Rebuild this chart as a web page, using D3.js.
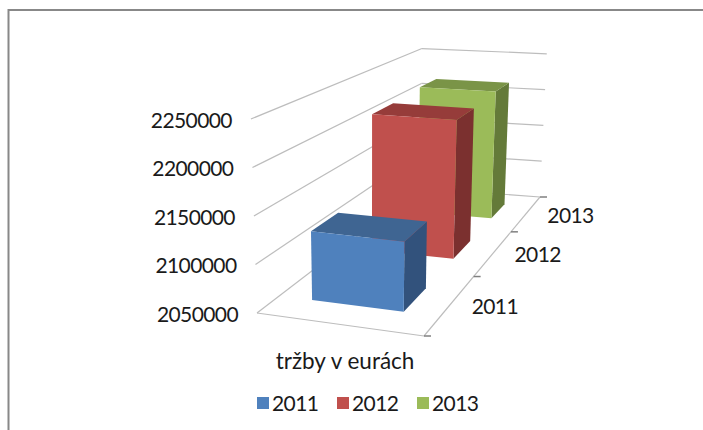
<!DOCTYPE html>
<html>
<head>
<meta charset="utf-8">
<script src="https://cdnjs.cloudflare.com/ajax/libs/d3/7.8.5/d3.min.js"></script>
<style>
  html, body { margin: 0; padding: 0; background: #fff; }
  text { font-family: Lato, "Open Sans", sans-serif; fill: #1a1a1a; }
  .num { font-size: 21px; letter-spacing: -0.6px; }
</style>
</head>
<body>
<svg id="chart" width="703" height="430"></svg>
<script>
// Data
const categories = ["tržby v eurách"];
const years = ["2011", "2012", "2013"];
const sales = [2123000, 2213000, 2216000];
const valueTicks = [2050000, 2100000, 2150000, 2200000, 2250000];

const frontColors = ["#4f81bd", "#c0504d", "#9bbb59"];
const topColors = ["#3f6592", "#963c3a", "#7a9447"];
const sideColors = ["#32527c", "#7b302f", "#647a39"];

const svg = d3.select("#chart");

// Floor of the 3D box as it lands on the screen
const floor = { fl: [257, 313], fr: [424, 336], br: [540, 197], bl: [420, 188] };
const wallHeight = 194;
const vanishX = 370, vanishRun = 3600;

// Homography of the unit square onto the floor
const dx1 = floor.fr[0] - floor.br[0], dy1 = floor.fr[1] - floor.br[1];
const dx2 = floor.bl[0] - floor.br[0], dy2 = floor.bl[1] - floor.br[1];
const sx = floor.fl[0] - floor.fr[0] + floor.br[0] - floor.bl[0];
const sy = floor.fl[1] - floor.fr[1] + floor.br[1] - floor.bl[1];
const det = dx1 * dy2 - dx2 * dy1;
const g = (sx * dy2 - dx2 * sy) / det;
const h = (dx1 * sy - sx * dy1) / det;

// u: across, v: depth, value: height
const height = d3.scaleLinear().domain([2050000, 2250000]).range([0, wallHeight]);

function project(u, v, value) {
    const w = g * u + h * v + 1;
    const x = ((floor.fr[0] - floor.fl[0] + g * floor.fr[0]) * u + (floor.bl[0] - floor.fl[0] + h * floor.bl[0]) * v + floor.fl[0]) / w;
    const y = ((floor.fr[1] - floor.fl[1] + g * floor.fr[1]) * u + (floor.bl[1] - floor.fl[1] + h * floor.bl[1]) * v + floor.fl[1]) / w;
    const lift = height(value) / (1 + (g * u * 0.6 + h * v) * 0.85);
    return [x + lift * (x - vanishX) / vanishRun, y - lift];
}

const across = d3.scaleBand().domain(categories).range([0, 1]).paddingInner(0).paddingOuter(0.377);
const depth = d3.scaleBand().domain(years).range([0, 1]).paddingInner(0.59).paddingOuter(0.295);
const depthEdges = d3.scaleLinear().domain([0, years.length]).range([0, 1]);
const base = valueTicks[0], lineColor = "#bdbdbd";

const line = (a, b, color, width) => svg.append("line")
    .attr("x1", a[0]).attr("y1", a[1]).attr("x2", b[0]).attr("y2", b[1])
    .attr("stroke", color).attr("stroke-width", width);

// Frame
svg.append("path").attr("d", "M8.5,430V10H703").attr("fill", "none").attr("stroke", "#888").attr("stroke-width", 2);

// Floor
line(project(0, 0, base), project(1, 0, base), lineColor, 1.2);
line(project(1, 0, base), project(1, 1, base), lineColor, 1.2);

// Walls
valueTicks.forEach(t => {
    line(project(0, 0, t), project(0, 1, t), lineColor, 1.2);
    line(project(0, 1, t), project(1, 1, t), lineColor, 1.2);
});

// Depth ticks
d3.range(years.length + 1).forEach(i => {
    const p = project(1, depthEdges(i), base);
    line(p, [p[0] + 7, p[1]], "#808080", 1.5);
});

// Bars, back to front
d3.range(years.length).reverse().forEach(i => {
    const u0 = across(categories[0]), u1 = u0 + across.bandwidth();
    const v0 = depth(years[i]), v1 = v0 + depth.bandwidth();
    const val = sales[i];
    const poly = (pts, color) => svg.append("polygon")
        .attr("points", pts.map(p => p.join(",")).join(" "))
        .attr("fill", color);
    poly([project(u1, v0, base), project(u1, v1, base), project(u1, v1, val), project(u1, v0, val)], sideColors[i]);
    poly([project(u0, v0, val), project(u1, v0, val), project(u1, v1, val), project(u0, v1, val)], topColors[i]);
    poly([project(u0, v0, base), project(u1, v0, base), project(u1, v0, val), project(u0, v0, val)], frontColors[i]);
});

// Value labels
valueTicks.forEach(t => {
    const p = project(0, 0, t);
    svg.append("text").attr("class", "num").attr("x", p[0] - 19).attr("y", p[1] + 1).attr("dy", "0.36em")
        .attr("text-anchor", "end").text(t);
});

// Depth labels
years.forEach((y, i) => {
    const p = project(1, depth(y) + depth.bandwidth() / 2, base);
    svg.append("text").attr("class", "num").attr("x", p[0] + 21).attr("y", p[1] + 2).attr("dy", "0.36em").text(y);
});

// Category label
svg.append("text").attr("x", 345).attr("y", 361).attr("dy", "0.36em")
    .attr("text-anchor", "middle").attr("font-size", 22.5).text(categories[0]);

// Legend
const legendX = d3.scalePoint().domain(years).range([257, 417]);
years.forEach((y, i) => {
    svg.append("rect").attr("x", legendX(y)).attr("y", 397).attr("width", 12).attr("height", 12).attr("fill", frontColors[i]);
    svg.append("text").attr("class", "num").attr("x", legendX(y) + 15).attr("y", 403).attr("dy", "0.36em").text(y);
});
</script>
</body>
</html>
